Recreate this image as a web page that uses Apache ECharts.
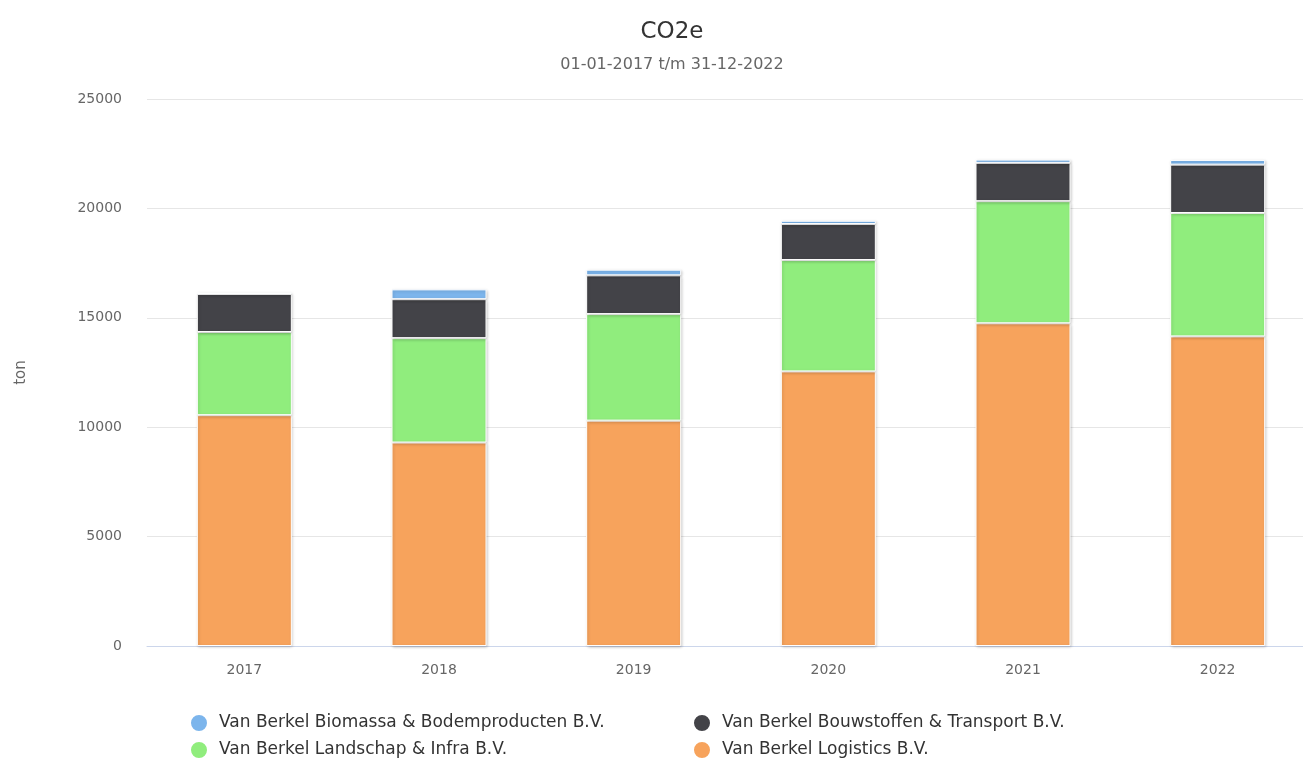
<!DOCTYPE html>
<html><head><meta charset="utf-8">
<script src="https://cdn.jsdelivr.net/npm/echarts@6/dist/echarts.min.js"></script>
<style>html,body{margin:0;padding:0;background:#fff;overflow:hidden;width:1303px;height:760px}#c{width:1344px;height:760px}</style>
</head><body><div id="c"></div>
<script>
const categories = ['2017','2018','2019','2020','2021','2022'];
const logistics = [10550, 9300, 10300, 12550, 14750, 14150];
const landschap = [3800, 4770, 4870, 5090, 5580, 5640];
const bouwstoffen = [1740, 1780, 1770, 1645, 1750, 2210];
const biomassa = [60, 450, 260, 150, 150, 215];
const yTicks = [0, 5000, 10000, 15000, 20000, 25000];
const names = {
  bio: 'Van Berkel Biomassa & Bodemproducten B.V.',
  bouw: 'Van Berkel Bouwstoffen & Transport B.V.',
  land: 'Van Berkel Landschap & Infra B.V.',
  log: 'Van Berkel Logistics B.V.'
};
const FONT = 'DejaVu Sans, sans-serif';
const chart = echarts.init(document.getElementById('c'), null, {renderer: 'canvas'});
function s(name, data, color) {
  return {
    name, type: 'bar', stack: 'total', data, barWidth: 95,
    itemStyle: {color, borderColor: '#ffffff', borderWidth: 1,
      shadowColor: 'rgba(0,0,0,0.2)', shadowBlur: 3, shadowOffsetX: 1, shadowOffsetY: 1},
    emphasis: {disabled: true}
  };
}
function leg(name, left, top) {
  return {data: [name], left, top, icon: 'circle', itemWidth: 18, itemHeight: 18, itemGap: 0,
    textStyle: {fontSize: 17, color: '#333333', fontFamily: FONT, padding: [0, 0, 0, 6]}};
}
chart.setOption({
  animation: false,
  textStyle: {fontFamily: FONT},
  title: {
    text: 'CO2e', subtext: '01-01-2017 t/m 31-12-2022', left: 'center', top: 16,
    textStyle: {fontSize: 23, fontWeight: 'normal', color: '#333333', fontFamily: FONT},
    subtextStyle: {fontSize: 16, color: '#666666', fontFamily: FONT}, itemGap: 13
  },
  legend: [
    leg(names.bio, 184, 708),
    leg(names.land, 184, 735),
    leg(names.bouw, 687, 708),
    leg(names.log, 687, 735)
  ],
  grid: {left: 147, top: 99, width: 1168, height: 547, containLabel: false},
  xAxis: {
    type: 'category', data: categories,
    axisLine: {lineStyle: {color: '#ccd6eb'}},
    axisTick: {show: false},
    axisLabel: {color: '#666666', fontSize: 14, margin: 17, fontFamily: FONT}
  },
  yAxis: {
    type: 'value', min: yTicks[0], max: yTicks[yTicks.length - 1], interval: 5000,
    name: 'ton', nameLocation: 'middle', nameGap: 118, nameRotate: 90,
    nameTextStyle: {color: '#666666', fontSize: 15, fontFamily: FONT},
    axisLabel: {color: '#666666', fontSize: 14, margin: 25, fontFamily: FONT,
      formatter: v => String(v)},
    splitLine: {lineStyle: {color: '#e6e6e6'}},
    axisLine: {show: false}, axisTick: {show: false}
  },
  series: [
    s(names.log, logistics, '#f7a35c'),
    s(names.land, landschap, '#90ed7d'),
    s(names.bouw, bouwstoffen, '#434348'),
    s(names.bio, biomassa, '#7cb5ec')
  ]
});
</script></body></html>
